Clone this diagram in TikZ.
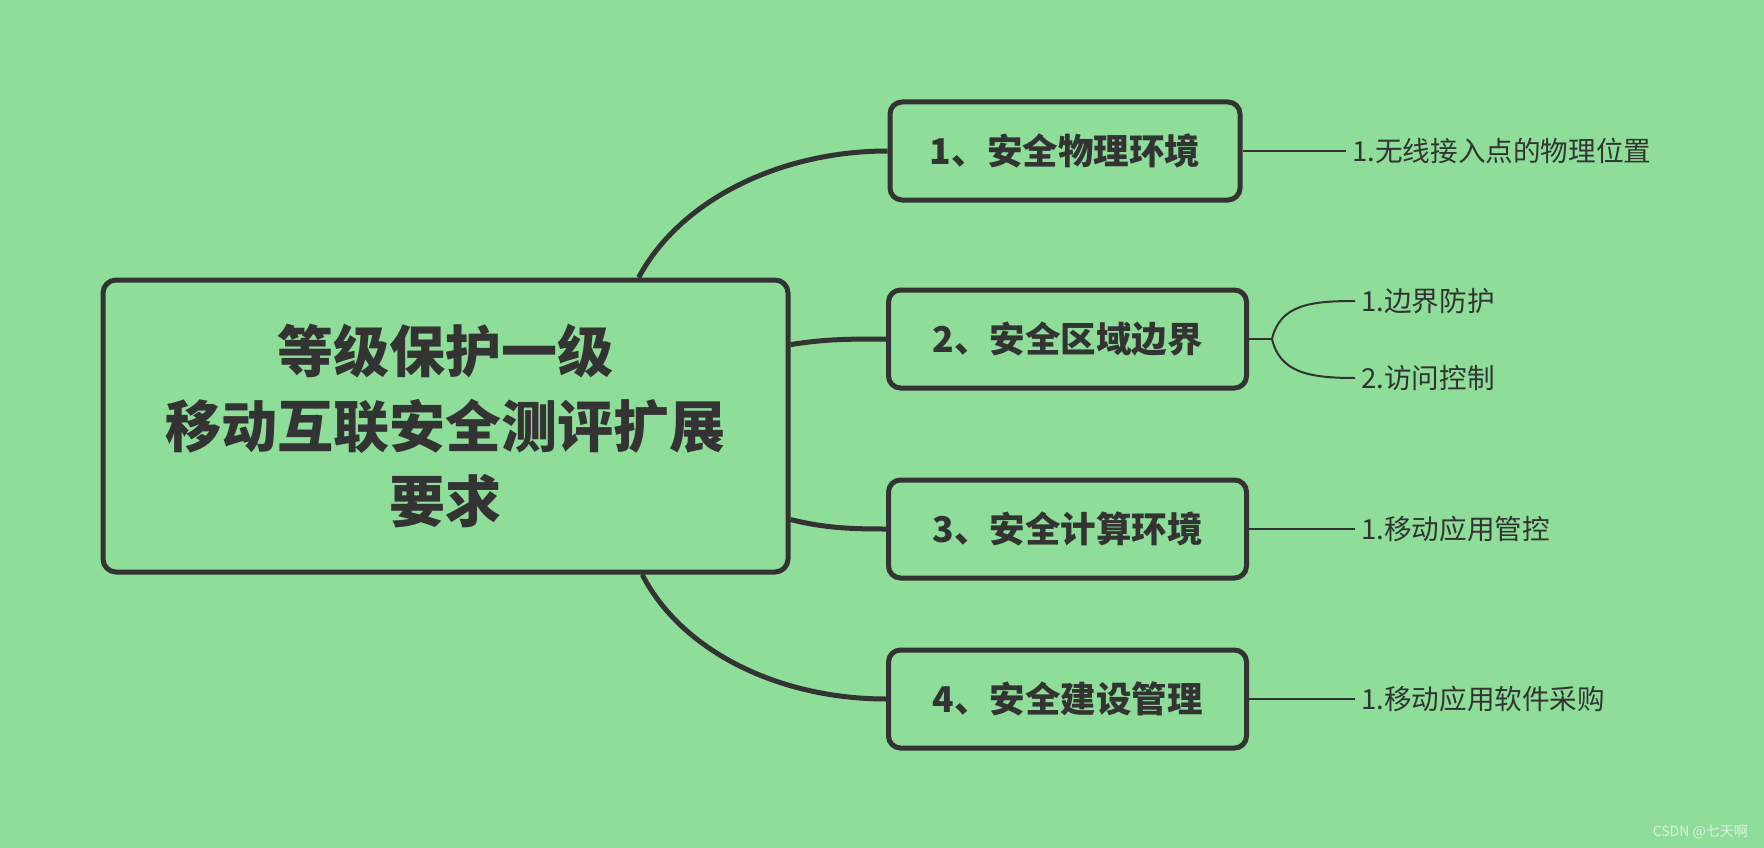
\documentclass[tikz,border=0pt]{standalone}
\usepackage{fontspec}
\setmainfont{Noto Sans CJK SC}
\usetikzlibrary{calc}
\definecolor{bg}{RGB}{142,222,153}
\definecolor{ink}{RGB}{51,51,51}
\definecolor{wm}{RGB}{225,238,226}
\begin{document}
\begin{tikzpicture}[x=1pt,y=-1pt,
  rootbox/.style={draw=ink,line width=5pt,rounded corners=13pt,minimum width=685pt,minimum height=292pt,inner sep=0pt,align=center,text=ink,font=\fontsize{56}{75}\selectfont\bfseries},
  topicbox/.style={draw=ink,line width=5pt,rounded corners=12pt,minimum width=358pt,minimum height=98pt,inner sep=0pt,text=ink,font=\fontsize{35.5}{40}\selectfont\bfseries},
  leaf/.style={anchor=west,inner xsep=6pt,inner ysep=0pt,text=ink,font=\fontsize{27.6}{30}\selectfont},
  mainlink/.style={draw=ink,line width=5pt},
  leaflink/.style={draw=ink,line width=2pt}]
\fill[bg] (0,0) rectangle (1764,848);
\useasboundingbox (0,0) rectangle (1764,848);

\node[rootbox] (root) at (445.5,426) {等级保护一级\\移动互联安全测评扩展\\要求};

\node[topicbox,minimum width=350pt] (t1) at (1065,151) {1、安全物理环境};
\node[topicbox] (t2) at (1067.5,339) {2、安全区域边界};
\node[topicbox] (t3) at (1067.5,529) {3、安全计算环境};
\node[topicbox] (t4) at (1067.5,699) {4、安全建设管理};

\coordinate (r1) at ($(root.north west)!0.78!(root.north east)$);
\coordinate (r2) at ($(root.north east)!0.226!(root.south east)$);
\coordinate (r3) at ($(root.north east)!0.815!(root.south east)$);
\coordinate (r4) at ($(root.south west)!0.785!(root.south east)$);

\draw[mainlink] (r1) .. controls (680,200) and (780,151) .. (t1.west);
\draw[mainlink] (r2) .. controls (825,339) and (850,339) .. (t2.west);
\draw[mainlink] (r3) .. controls (825,528) and (850,529) .. (t3.west);
\draw[mainlink] (r4) .. controls (682,652) and (780,699) .. (t4.west);

\node[leaf] (l1) at (1346,151) {1.无线接入点的物理位置};
\node[leaf] (l21) at (1355,301) {1.边界防护};
\node[leaf] (l22) at (1355,378) {2.访问控制};
\node[leaf] (l3) at (1355,529) {1.移动应用管控};
\node[leaf] (l4) at (1355,699) {1.移动应用软件采购};

\coordinate (j2) at (1272,339);
\draw[leaflink] (t1.east) -- (l1.west);
\draw[leaflink] (t2.east) -- (j2);
\draw[leaflink] (j2) .. controls (1280,305) and (1310,301) .. (l21.west);
\draw[leaflink] (j2) .. controls (1280,373) and (1310,378) .. (l22.west);
\draw[leaflink] (t3.east) -- (l3.west);
\draw[leaflink] (t4.east) -- (l4.west);

\node[anchor=east,inner sep=0pt,text=wm,font=\fontsize{14}{16}\selectfont] (wmk) at (1748,832) {CSDN @七天啊};
\end{tikzpicture}
\end{document}
